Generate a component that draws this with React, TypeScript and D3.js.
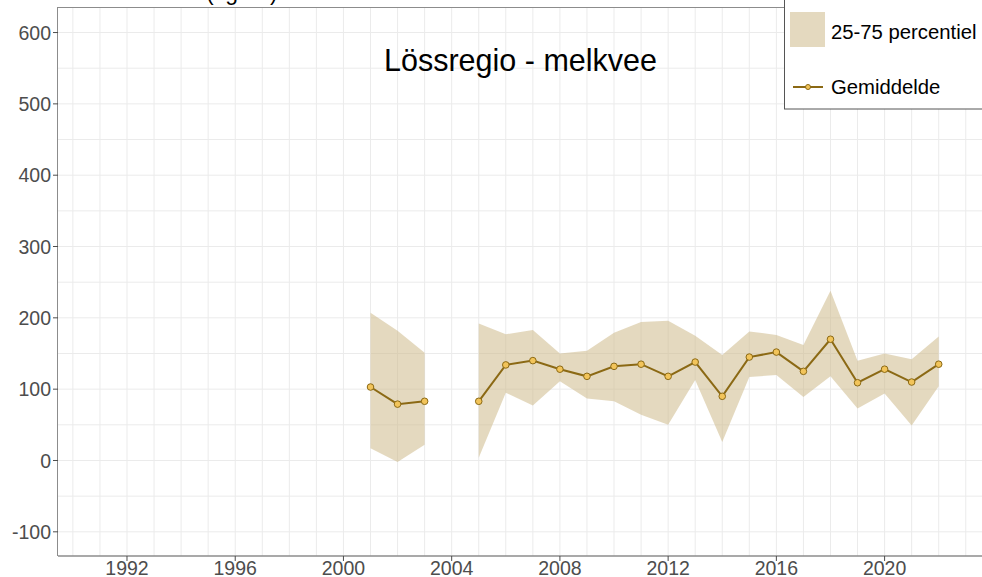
import { useEffect, useRef } from 'react';
import * as d3 from 'd3';

// years with data (2004 has no data -> gap)
const years = [2001, 2002, 2003, 2004, 2005, 2006, 2007, 2008, 2009, 2010, 2011, 2012, 2013, 2014, 2015, 2016, 2017, 2018, 2019, 2020, 2021, 2022];
const meanValues = [103, 79, 83, null, 83, 134, 140, 128, 118, 132, 135, 118, 138, 90, 145, 152, 125, 170, 109, 128, 110, 135];
const p25Values = [17, -2, 22, null, 4, 95, 77, 111, 87, 83, 64, 50, 113, 26, 117, 120, 89, 118, 73, 94, 49, 104];
const p75Values = [207, 182, 151, null, 192, 177, 183, 150, 154, 179, 194, 196, 175, 148, 181, 176, 162, 238, 140, 150, 142, 174];

const xTicks = [1992, 1996, 2000, 2004, 2008, 2012, 2016, 2020];
const yTicks = [-100, 0, 100, 200, 300, 400, 500, 600];

const W = 982;
const H = 577;
const font = '"Liberation Sans", Arial, sans-serif';

export default function App() {
  const ref = useRef<SVGSVGElement>(null);

  useEffect(() => {
    if (!ref.current) return;
    const svg = d3.select(ref.current);
    svg.selectAll('*').remove();

    const left = 58, top = 7, bottom = 556, right = 982;

    const x = d3.scaleLinear().domain([1989.45, 2023.6]).range([left, right]);
    const y = d3.scaleLinear().domain([-133.9, 635.8]).range([bottom, top]);

    // grid
    const grid = svg.append('g');
    d3.range(1990, 2024).forEach(yr => {
      grid.append('line')
        .attr('x1', x(yr)).attr('x2', x(yr))
        .attr('y1', top).attr('y2', bottom)
        .attr('stroke', '#ebebeb').attr('stroke-width', 1);
    });
    d3.range(-100, 601, 50).forEach(v => {
      grid.append('line')
        .attr('x1', left).attr('x2', right)
        .attr('y1', y(v)).attr('y2', y(v))
        .attr('stroke', '#ebebeb').attr('stroke-width', 1);
    });

    const rows = years.map((yr, i) => ({
      year: yr, mean: meanValues[i], lo: p25Values[i], hi: p75Values[i]
    }));

    // percentile band
    const area = d3.area<any>()
      .defined(d => d.lo != null)
      .x(d => x(d.year))
      .y0(d => y(d.lo))
      .y1(d => y(d.hi));
    svg.append('path')
      .attr('d', area(rows))
      .attr('fill', '#cdb98a')
      .attr('fill-opacity', 0.55);

    // mean line
    const line = d3.line<any>()
      .defined(d => d.mean != null)
      .x(d => x(d.year))
      .y(d => y(d.mean));
    svg.append('path')
      .attr('d', line(rows))
      .attr('fill', 'none')
      .attr('stroke', '#8b6914')
      .attr('stroke-width', 2);

    svg.append('g').selectAll('circle')
      .data(rows.filter(d => d.mean != null))
      .enter()
      .append('circle')
      .attr('cx', d => x(d.year))
      .attr('cy', d => y(d.mean as number))
      .attr('r', 3.3)
      .attr('fill', '#f2c45a')
      .attr('stroke', '#8b6914')
      .attr('stroke-width', 1);

    // panel border (top + left + bottom)
    svg.append('line').attr('x1', left).attr('x2', right).attr('y1', top + 0.5).attr('y2', top + 0.5)
      .attr('stroke', '#8c8c8c');
    svg.append('line').attr('x1', left - 0.5).attr('x2', left - 0.5).attr('y1', top).attr('y2', bottom)
      .attr('stroke', '#8c8c8c');
    svg.append('line').attr('x1', left).attr('x2', right).attr('y1', bottom).attr('y2', bottom)
      .attr('stroke', '#8c8c8c').attr('stroke-width', 1.5);

    // y axis
    yTicks.forEach(v => {
      svg.append('line')
        .attr('x1', left - 5).attr('x2', left)
        .attr('y1', y(v)).attr('y2', y(v))
        .attr('stroke', '#4d4d4d');
      svg.append('text')
        .attr('x', left - 7).attr('y', y(v))
        .attr('dy', '0.36em')
        .attr('text-anchor', 'end')
        .style('font-family', font)
        .style('font-size', '19.5px')
        .style('fill', '#4d4d4d')
        .text(v);
    });

    // x axis
    xTicks.forEach(v => {
      svg.append('line')
        .attr('x1', x(v)).attr('x2', x(v))
        .attr('y1', bottom).attr('y2', bottom + 5)
        .attr('stroke', '#4d4d4d');
      svg.append('text')
        .attr('x', x(v)).attr('y', 574.5)
        .attr('text-anchor', 'middle')
        .style('font-family', font)
        .style('font-size', '19.5px')
        .style('fill', '#4d4d4d')
        .text(v);
    });

    // cut-off unit text at the top
    svg.append('text')
      .attr('x', 206).attr('y', -0.5)
      .style('font-family', font)
      .style('font-size', '23px')
      .style('fill', '#000')
      .text('(kg/ha)');

    // title
    svg.append('text')
      .attr('x', 520.5).attr('y', 71)
      .attr('text-anchor', 'middle')
      .style('font-family', font)
      .style('font-size', '30.5px')
      .style('fill', '#000')
      .text('Lössregio - melkvee');

    // legend
    const lg = svg.append('g');
    lg.append('rect')
      .attr('x', 784.5).attr('y', -1)
      .attr('width', 210).attr('height', 110)
      .attr('fill', 'white')
      .attr('stroke', '#555');
    lg.append('rect')
      .attr('x', 790).attr('y', 12)
      .attr('width', 35).attr('height', 35)
      .attr('fill', '#cdb98a')
      .attr('fill-opacity', 0.55);
    lg.append('text')
      .attr('x', 831).attr('y', 38.5)
      .style('font-family', font)
      .style('font-size', '20.3px')
      .text('25-75 percentiel');
    lg.append('line')
      .attr('x1', 793).attr('x2', 823)
      .attr('y1', 87).attr('y2', 87)
      .attr('stroke', '#8b6914').attr('stroke-width', 2);
    lg.append('circle')
      .attr('cx', 808).attr('cy', 87).attr('r', 2.5)
      .attr('fill', '#f2c45a').attr('stroke', '#8b6914');
    lg.append('text')
      .attr('x', 831).attr('y', 94)
      .style('font-family', font)
      .style('font-size', '20.3px')
      .text('Gemiddelde');
  }, []);

  return (
    <div style={{ position: 'absolute', left: 0, top: 0 }}>
      <svg ref={ref} width={W} height={H} style={{ display: 'block', background: 'white' }} />
    </div>
  );
}
